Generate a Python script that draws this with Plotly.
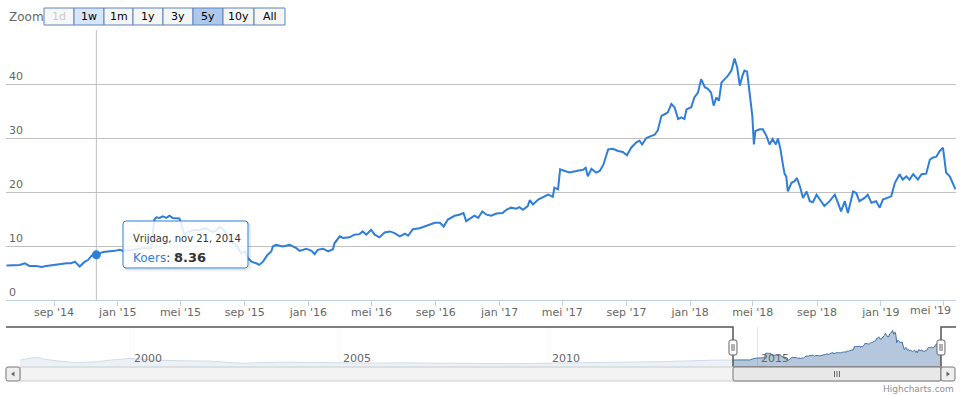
import plotly.graph_objects as go

# ---------------- data ----------------
series_name = "Koers"

dates = [
    "2014-06-02", "2014-06-27", "2014-07-07", "2014-07-16", "2014-07-29", "2014-08-08", "2014-08-17", "2014-08-30",
    "2014-09-12", "2014-09-25", "2014-10-04", "2014-10-11", "2014-10-17", "2014-10-20", "2014-10-30", "2014-11-05",
    "2014-11-12", "2014-11-21", "2014-12-04", "2014-12-17", "2014-12-26",
    "2015-01-05", "2015-01-11", "2015-01-30", "2015-02-18", "2015-03-06", "2015-03-12", "2015-03-16", "2015-03-22",
    "2015-03-28", "2015-04-04", "2015-04-10", "2015-04-16", "2015-04-29", "2015-05-03", "2015-05-09", "2015-05-15",
    "2015-05-25", "2015-06-07", "2015-06-19", "2015-06-26", "2015-07-02", "2015-07-09", "2015-07-15", "2015-07-21",
    "2015-07-28", "2015-08-03", "2015-08-16", "2015-08-25", "2015-09-01", "2015-09-07", "2015-09-14", "2015-09-23",
    "2015-09-29", "2015-10-06", "2015-10-12", "2015-10-15", "2015-10-22", "2015-10-25", "2015-10-31", "2015-11-13",
    "2015-11-26", "2015-12-02", "2015-12-09", "2015-12-15", "2015-12-21", "2015-12-28",
    "2016-01-07", "2016-01-13", "2016-01-19", "2016-01-29", "2016-02-08", "2016-02-17", "2016-02-20", "2016-03-01",
    "2016-03-07", "2016-03-20", "2016-03-29", "2016-04-08", "2016-04-14", "2016-04-21", "2016-04-30", "2016-05-07",
    "2016-05-16", "2016-05-26", "2016-06-05", "2016-06-14", "2016-06-24", "2016-07-04", "2016-07-10", "2016-07-19",
    "2016-08-01", "2016-08-10", "2016-08-20", "2016-08-30", "2016-09-09", "2016-09-16", "2016-09-24", "2016-10-07",
    "2016-10-16", "2016-10-24", "2016-10-29", "2016-11-08", "2016-11-14", "2016-11-21", "2016-11-29", "2016-12-07",
    "2016-12-16", "2016-12-26",
    "2017-01-07", "2017-01-14", "2017-01-23", "2017-02-02", "2017-02-08", "2017-02-15", "2017-02-24", "2017-02-28",
    "2017-03-06", "2017-03-16", "2017-03-25", "2017-04-04", "2017-04-13", "2017-04-16", "2017-04-23", "2017-04-27",
    "2017-05-06", "2017-05-15", "2017-05-28", "2017-06-10", "2017-06-15", "2017-06-19", "2017-06-26", "2017-07-05",
    "2017-07-12", "2017-07-19", "2017-07-28", "2017-08-06", "2017-08-16", "2017-08-25", "2017-09-02", "2017-09-10",
    "2017-09-20", "2017-09-26", "2017-10-01", "2017-10-09", "2017-10-19", "2017-10-25", "2017-10-31", "2017-11-07",
    "2017-11-13", "2017-11-19", "2017-11-26", "2017-12-02", "2017-12-09", "2017-12-15", "2017-12-21", "2017-12-25",
    "2018-01-03", "2018-01-09", "2018-01-16", "2018-01-22", "2018-01-29", "2018-02-04", "2018-02-10", "2018-02-15",
    "2018-02-20", "2018-02-25", "2018-03-02", "2018-03-08", "2018-03-14", "2018-03-21", "2018-03-27", "2018-04-01",
    "2018-04-06", "2018-04-11", "2018-04-15", "2018-04-20", "2018-04-25", "2018-04-30", "2018-05-03", "2018-05-06",
    "2018-05-14", "2018-05-20", "2018-05-27", "2018-06-02", "2018-06-08", "2018-06-14", "2018-06-18", "2018-06-23",
    "2018-06-28", "2018-07-01", "2018-07-04", "2018-07-07", "2018-07-14", "2018-07-20", "2018-07-24", "2018-07-30",
    "2018-08-05", "2018-08-12", "2018-08-18", "2018-08-24", "2018-08-31", "2018-09-06", "2018-09-15", "2018-09-25",
    "2018-10-05", "2018-10-11", "2018-10-17", "2018-10-24", "2018-10-30", "2018-11-09", "2018-11-15", "2018-11-21",
    "2018-12-01", "2018-12-07", "2018-12-14", "2018-12-23", "2018-12-30",
    "2019-01-05", "2019-01-15", "2019-01-21", "2019-01-28", "2019-02-06", "2019-02-12", "2019-02-19", "2019-02-25",
    "2019-03-04", "2019-03-13", "2019-03-20", "2019-03-29", "2019-04-05", "2019-04-11", "2019-04-17", "2019-04-24",
    "2019-04-30", "2019-05-03", "2019-05-06", "2019-05-13", "2019-05-19", "2019-05-24",
]

koers = [
    6.4, 6.5, 6.8, 6.3, 6.3, 6.1, 6.3, 6.5,
    6.7, 6.8, 6.8, 7.1, 6.5, 6.2, 7.1, 7.4,
    8.2, 8.36, 8.9, 9.0, 9.1,
    9.3, 9.1, 9.3, 9.6, 9.6, 14.9, 15.3, 15.2,
    15.5, 15.2, 15.6, 15.2, 15.1, 14.0, 12.1, 12.6,
    12.9, 13.0, 13.3, 12.8, 12.6, 12.9, 13.6, 13.2,
    12.4, 10.8, 10.2, 8.6, 9.0, 7.8, 7.1, 6.8,
    6.5, 7.1, 8.1, 8.4, 9.0, 9.9, 10.2, 9.9,
    10.2, 9.9, 9.6, 9.1, 9.3, 9.5,
    9.1, 8.5, 9.3, 9.5, 9.0, 9.4, 10.5, 11.8,
    11.5, 11.6, 12.1, 12.2, 12.7, 12.1, 13.0, 12.1,
    11.6, 12.5, 12.7, 12.4, 11.8, 12.3, 11.9, 13.1,
    13.3, 13.6, 14.0, 14.3, 14.3, 13.6, 14.9, 15.6,
    15.8, 16.1, 14.6, 15.2, 15.6, 15.2, 16.4, 15.8,
    15.6, 16.0,
    16.1, 16.7, 17.1, 16.9, 17.2, 16.7, 17.4, 18.5,
    17.7, 18.6, 19.1, 19.5, 19.1, 20.8, 20.5, 24.2,
    23.9, 23.6, 23.9, 24.1, 24.5, 22.9, 24.3, 23.6,
    23.9, 25.1, 27.9, 28.0, 27.6, 27.4, 26.8, 28.2,
    29.2, 29.5, 28.8, 30.0, 30.4, 30.6, 31.4, 34.1,
    34.4, 34.7, 36.3, 35.7, 33.5, 33.8, 33.5, 35.3,
    35.7, 37.5, 38.4, 40.9, 39.4, 39.1, 38.4, 36.0,
    37.5, 36.9, 40.3, 40.9, 41.5, 42.5, 44.7, 43.1,
    39.7, 41.5, 42.5, 42.3, 38.4, 34.1, 28.8, 31.3,
    31.6, 31.6, 30.4, 28.8, 29.8, 28.8, 29.9, 27.9,
    24.8, 23.3, 22.9, 20.1, 21.7, 22.0, 22.6, 21.1,
    18.9, 20.1, 18.3, 18.1, 19.5, 18.6, 17.4, 18.3,
    19.5, 18.0, 16.4, 18.3, 16.1, 20.1, 19.8, 18.3,
    18.9, 19.5, 18.0, 18.3, 17.1,
    18.6, 18.9, 19.2, 21.7, 23.3, 22.3, 22.9, 22.3,
    23.3, 22.3, 23.3, 23.4, 26.0, 26.4, 26.5, 27.6,
    28.2, 26.0, 23.6, 22.9, 21.7, 20.5,
]

# older history, only visible in the navigator
hist_dates = [
    "1997-05-14", "1997-08-12", "1997-10-23", "1997-12-06", "1998-04-01", "1998-09-21", "1999-03-14",
    "1999-07-08", "2000-01-01", "2000-07-19", "2001-05-11", "2001-11-28", "2002-08-18", "2003-08-28",
    "2004-11-08", "2005-09-01", "2006-06-17", "2007-08-28", "2008-11-05", "2009-02-27", "2010-01-01",
    "2010-10-04", "2011-07-19", "2012-10-01", "2013-12-13",
]
hist_koers = [
    6.5, 9.2, 10.0, 7.9, 5.6, 3.3, 4.3,
    6.5, 8.6, 6.5, 5.6, 5.2, 2.6, 3.9,
    3.3, 2.6, 3.0, 2.6, 2.0, 2.0, 2.6,
    3.0, 4.3, 4.6, 6.5,
]

x_ticks = ["2014-09-01", "2015-01-01", "2015-05-01", "2015-09-01", "2016-01-01", "2016-05-01", "2016-09-01",
           "2017-01-01", "2017-05-01", "2017-09-01", "2018-01-01", "2018-05-01", "2018-09-01", "2019-01-01",
           "2019-05-01"]
x_labels = ["sep '14", "jan '15", "mei '15", "sep '15", "jan '16", "mei '16", "sep '16", "jan '17",
            "mei '17", "sep '17", "jan '18", "mei '18", "sep '18", "jan '19", "mei '19"]
y_ticks = [0, 10, 20, 30, 40, 50]
y_labels = ["0", "10", "20", "30", "40", ""]
nav_ticks = ["2000-01-01", "2005-01-01", "2010-01-01", "2015-01-01"]
nav_labels = ["2000", "2005", "2010", "2015"]
zoom_buttons = ["1d", "1w", "1m", "1y", "3y", "5y", "10y", "All"]
zoom_states = ["disabled", "hover", "normal", "normal", "normal", "selected", "normal", "normal"]

view_range = ["2014-06-01", "2019-05-25"]
hover_date = "2014-11-21"
hover_value = 8.36
hover_header = "Vrijdag, nov 21, 2014"

# ---------------- styling / layout helpers ----------------
W, H = 964, 395
LINE = "#2f7ed8"
NAV = "#4572a7"
FONT = "DejaVu Sans"


def px(x):
    return x / W


def py(y):
    return 1 - y / H


def rect(x0, y0, x1, y1, fill, line=None, lw=1, layer="above"):
    return dict(type="rect", xref="paper", yref="paper", x0=px(x0), x1=px(x1), y0=py(y1), y1=py(y0),
                fillcolor=fill, line=dict(color=line or "rgba(0,0,0,0)", width=lw if line else 0), layer=layer)


def seg(x0, y0, x1, y1, color, lw=1, layer="above"):
    return dict(type="line", xref="paper", yref="paper", x0=px(x0), x1=px(x1), y0=py(y0), y1=py(y1),
                line=dict(color=color, width=lw), layer=layer)


def rrect_path(x0, y0, x1, y1, r):
    pts = [
        ("M", x0 + r, y0), ("L", x1 - r, y0), ("Q", x1, y0, x1, y0 + r), ("L", x1, y1 - r),
        ("Q", x1, y1, x1 - r, y1), ("L", x0 + r, y1), ("Q", x0, y1, x0, y1 - r), ("L", x0, y0 + r),
        ("Q", x0, y0, x0 + r, y0),
    ]
    s = ""
    for p in pts:
        if p[0] == "Q":
            s += "Q%.5f,%.5f %.5f,%.5f " % (px(p[1]), py(p[2]), px(p[3]), py(p[4]))
        else:
            s += "%s%.5f,%.5f " % (p[0], px(p[1]), py(p[2]))
    return s + "Z"


nav_x = hist_dates + dates
nav_y = hist_koers + koers
nav_span = max(nav_y) - min(nav_y)
nav_range = [min(nav_y) - 0.1 * nav_span, max(nav_y) + 0.1 * nav_span]

fig = go.Figure()

# navigator baseline + area
fig.add_trace(go.Scatter(x=[nav_x[0], nav_x[-1]], y=[nav_range[0], nav_range[0]], mode="lines",
                         line=dict(width=0, color="rgba(0,0,0,0)"), xaxis="x2", yaxis="y2",
                         hoverinfo="skip", showlegend=False))
fig.add_trace(go.Scatter(x=nav_x, y=nav_y, mode="lines", fill="tonexty", fillcolor="rgba(69,114,167,0.4)",
                         line=dict(color=NAV, width=1), xaxis="x2", yaxis="y2", hoverinfo="skip",
                         showlegend=False))

# main series
fig.add_trace(go.Scatter(x=dates, y=koers, mode="lines", name=series_name, line=dict(color=LINE, width=2),
                         xaxis="x", yaxis="y", hoverinfo="skip", showlegend=False))
fig.add_trace(go.Scatter(x=[hover_date], y=[hover_value], mode="markers",
                         marker=dict(color=LINE, size=9, line=dict(width=0)),
                         xaxis="x", yaxis="y", hoverinfo="skip", showlegend=False))

shapes = []
annotations = []

# crosshair
shapes.append(dict(type="line", xref="x", yref="paper", x0=hover_date, x1=hover_date, y0=py(300), y1=py(30),
                   line=dict(color="#c0c0c0", width=1), layer="between"))

# last x label is pushed inside the plot (as the reference does)
annotations.append(dict(x=x_ticks[-1], y=py(310.5), xref="x", yref="paper", text=x_labels[-1], showarrow=False,
                        xanchor="right", yanchor="middle", xshift=10,
                        font=dict(family=FONT, size=11, color="#666666")))
tick_text = x_labels[:-1] + [""]

# zoom label and buttons
annotations.append(dict(x=px(7), y=py(16.5), xref="paper", yref="paper", text="Zoom", showarrow=False,
                        xanchor="left", yanchor="middle", font=dict(family=FONT, size=12, color="#666666")))
btn_edges = [44, 74, 104, 133, 163, 193, 223, 254, 285]
btn_fill = {"disabled": "#f7f7f7", "hover": "#d6e5f8", "normal": "#f5f5f5", "selected": "#adc8ec"}
for i, lab in enumerate(zoom_buttons):
    st = zoom_states[i]
    shapes.append(rect(btn_edges[i], 8, btn_edges[i + 1], 25, btn_fill[st], "#5d84b8", 1))
    annotations.append(dict(x=px((btn_edges[i] + btn_edges[i + 1]) / 2), y=py(16.5), xref="paper", yref="paper",
                            text=lab, showarrow=False, xanchor="center", yanchor="middle",
                            font=dict(family=FONT, size=11, color="#cccccc" if st == "disabled" else "#000000")))

# navigator mask over the unselected part, outline and handles
shapes.append(dict(type="rect", xref="x2", yref="paper", x0=nav_x[0], x1=view_range[0], y0=py(367), y1=py(327),
                   fillcolor="rgba(255,255,255,0.75)", line=dict(width=0), layer="above"))
shapes.append(dict(type="path", xref="paper", yref="paper",
                   path="M%.5f,%.5f L%.5f,%.5f L%.5f,%.5f L%.5f,%.5f L%.5f,%.5f L%.5f,%.5f" % (
                       px(6), py(327), px(733), py(327), px(733), py(367), px(941), py(367), px(941), py(327),
                       px(956), py(327)),
                   line=dict(color="#555555", width=1.5), layer="above"))

# scrollbar
shapes.append(rect(20, 367, 941, 381, "#f3f3f3", "#cccccc", 1))
shapes.append(dict(type="path", xref="paper", yref="paper", path=rrect_path(733, 367, 941, 381, 2),
                   fillcolor="#e8e8e8", line=dict(color="#777777", width=1), layer="above"))
for gx in (834.5, 837, 839.5):
    shapes.append(seg(gx, 371, gx, 377, "#666666", 1))
shapes.append(dict(type="path", xref="paper", yref="paper", path=rrect_path(6, 367, 20, 381, 2),
                   fillcolor="#eeeeee", line=dict(color="#777777", width=1), layer="above"))
shapes.append(dict(type="path", xref="paper", yref="paper", path=rrect_path(941, 367, 955, 381, 2),
                   fillcolor="#eeeeee", line=dict(color="#777777", width=1), layer="above"))
shapes.append(dict(type="path", xref="paper", yref="paper",
                   path="M%.5f,%.5f L%.5f,%.5f L%.5f,%.5f Z" % (px(14.5), py(371.5), px(14.5), py(376.5), px(11), py(374)),
                   fillcolor="#666666", line=dict(width=0), layer="above"))
shapes.append(dict(type="path", xref="paper", yref="paper",
                   path="M%.5f,%.5f L%.5f,%.5f L%.5f,%.5f Z" % (px(946.5), py(371.5), px(946.5), py(376.5), px(950), py(374)),
                   fillcolor="#666666", line=dict(width=0), layer="above"))

for hx in (733, 941):
    shapes.append(dict(type="path", xref="paper", yref="paper", path=rrect_path(hx - 4, 340, hx + 4, 355, 2),
                       fillcolor="#ffffff", line=dict(color="#666666", width=1), layer="above"))
    shapes.append(seg(hx - 1, 344, hx - 1, 351, "#666666", 1))
    shapes.append(seg(hx + 1, 344, hx + 1, 351, "#666666", 1))

# navigator year labels
for t, lab in zip(nav_ticks, nav_labels):
    annotations.append(dict(x=t, y=py(358), xref="x2", yref="paper", text=lab, showarrow=False, xanchor="left",
                            yanchor="middle", xshift=2, font=dict(family=FONT, size=11, color="#666666")))

# tooltip
for k, a in ((3, 0.05), (2, 0.08), (1, 0.12)):
    shapes.append(dict(type="path", xref="paper", yref="paper", path=rrect_path(123 + k, 221 + k, 248 + k, 268 + k, 3),
                       fillcolor="rgba(0,0,0,0)", line=dict(color="rgba(0,0,0,%.2f)" % a, width=1), layer="above"))
shapes.append(dict(type="path", xref="paper", yref="paper", path=rrect_path(123, 221, 248, 268, 3),
                   fillcolor="rgba(255,255,255,0.85)", line=dict(color=LINE, width=1), layer="above"))
annotations.append(dict(x=px(131), y=py(238), xref="paper", yref="paper", text=hover_header, showarrow=False,
                        xanchor="left", yanchor="middle", font=dict(family=FONT, size=10, color="#333333")))
annotations.append(dict(x=px(131), y=py(257), xref="paper", yref="paper",
                        text="<span style='color:%s'>%s</span>: <b><span style='font-size:13px'>%.2f</span></b>" % (
                            LINE, series_name, hover_value),
                        showarrow=False, xanchor="left", yanchor="middle",
                        font=dict(family=FONT, size=12, color="#333333")))

# credits
annotations.append(dict(x=px(956), y=py(389), xref="paper", yref="paper", text="Highcharts.com", showarrow=False,
                        xanchor="right", yanchor="middle", font=dict(family=FONT, size=9, color="#909090")))

fig.update_layout(
    width=W, height=H, autosize=False,
    margin=dict(l=0, r=0, t=0, b=0),
    paper_bgcolor="#ffffff", plot_bgcolor="#ffffff",
    font=dict(family=FONT, size=11, color="#666666"),
    showlegend=False,
    xaxis=dict(domain=[px(6), px(956)], type="date", range=view_range, tickmode="array", tickvals=x_ticks,
               ticktext=tick_text, showgrid=False, zeroline=False, showline=True, linecolor="#c0d0e0",
               linewidth=1, ticks="outside", ticklen=5, tickcolor="#c0d0e0", anchor="y",
               ticklabelstandoff=-3,
               tickfont=dict(family=FONT, size=11, color="#666666")),
    yaxis=dict(domain=[py(300), py(30)], range=[0, 50], tickmode="array", tickvals=y_ticks, ticktext=y_labels,
               showgrid=True, gridcolor="#c0c0c0", gridwidth=1, zeroline=False, showline=False,
               ticklabelposition="inside top", anchor="x",
               tickfont=dict(family=FONT, size=11, color="#666666")),
    xaxis2=dict(domain=[px(20), px(941)], type="date", range=[nav_x[0], nav_x[-1]], tickmode="array",
                tickvals=nav_ticks, showticklabels=False, showgrid=True, gridcolor="#e4e4e4", zeroline=False,
                showline=False, ticks="", anchor="y2"),
    yaxis2=dict(domain=[py(367), py(327)], range=nav_range, showgrid=False, showticklabels=False,
                zeroline=False, showline=False, ticks="", anchor="x2"),
    shapes=shapes,
    annotations=annotations,
)

fig.write_html("out.html", config={"displayModeBar": False},
               post_script="document.body.style.margin='0';document.body.style.overflow='hidden';")
